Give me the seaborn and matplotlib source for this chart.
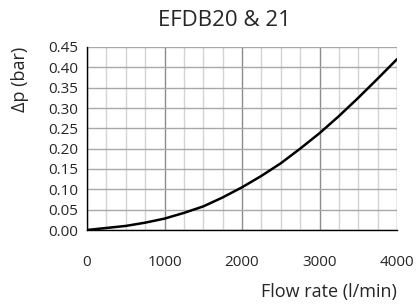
import numpy as np
import pandas as pd
import matplotlib
matplotlib.use("Agg")
import matplotlib.pyplot as plt
import seaborn as sns

TITLE  = "EFDB20 & 21"
XLABEL = "Flow rate (l/min)"
YLABEL = "Δp (bar)"

flow     = [0, 250, 500, 750, 1000, 1250, 1500, 1750, 2000, 2250, 2500,
            2750, 3000, 3250, 3500, 3750, 4000]
pressure = [0.000, 0.005, 0.010, 0.018, 0.028, 0.042, 0.058, 0.080, 0.105,
            0.133, 0.164, 0.200, 0.238, 0.280, 0.325, 0.372, 0.420]

x_ticks = [0, 1000, 2000, 3000, 4000]
y_ticks = np.round(np.arange(0, 0.451, 0.05), 2)

sns.set_style("white")
plt.rcParams["font.family"] = ["Open Sans", "DejaVu Sans"]

df = pd.DataFrame({"flow": flow, "dp": pressure})

fig = plt.figure(figsize=(4.17, 3.08), dpi=100)
ax = fig.add_axes([87 / 417, 1 - 230 / 308, 310 / 417, 183 / 308])

sns.lineplot(data=df, x="flow", y="dp", color="black", linewidth=1.8, ax=ax)

ax.set_xlim(0, 4000)
ax.set_ylim(0, 0.45)
ax.set_xticks(x_ticks)
ax.set_yticks(y_ticks)
ax.set_xticks(np.arange(0, 4001, 250), minor=True)
ax.set_yticklabels([f"{v:.2f}" for v in y_ticks], fontsize=11)
ax.set_xticklabels([str(v) for v in x_ticks], fontsize=11)

ax.grid(which="minor", axis="x", color="#d4d4d4", linewidth=1.0)
ax.grid(which="major", axis="x", color="#8c8c8c", linewidth=1.0)
ax.grid(which="major", axis="y", color="#a8a8a8", linewidth=1.0)
ax.set_axisbelow(True)

for side in ["top", "right"]:
    ax.spines[side].set_visible(False)
for side in ["left", "bottom"]:
    ax.spines[side].set_color("black")
    ax.spines[side].set_linewidth(1.0)

ax.tick_params(axis="x", which="major", direction="inout", length=8, width=1,
               color="black", pad=14)
ax.tick_params(axis="x", which="minor", length=0)
ax.tick_params(axis="y", direction="inout", length=7, width=1, color="black", pad=3)

# axis titles sit where the source chart puts them, not centred on the axes
ax.set_xlabel("")
ax.set_ylabel("")
fig.text(20 / 417, 1 - 79 / 308, YLABEL, rotation=90, ha="center", va="center",
         fontsize=13)
fig.text(397 / 417, 1 - 292 / 308, XLABEL, ha="right", va="center", fontsize=13)
fig.text(224 / 417, 1 - 20 / 308, TITLE, ha="center", va="center", fontsize=16)

fig.savefig("out.png", dpi=100)
